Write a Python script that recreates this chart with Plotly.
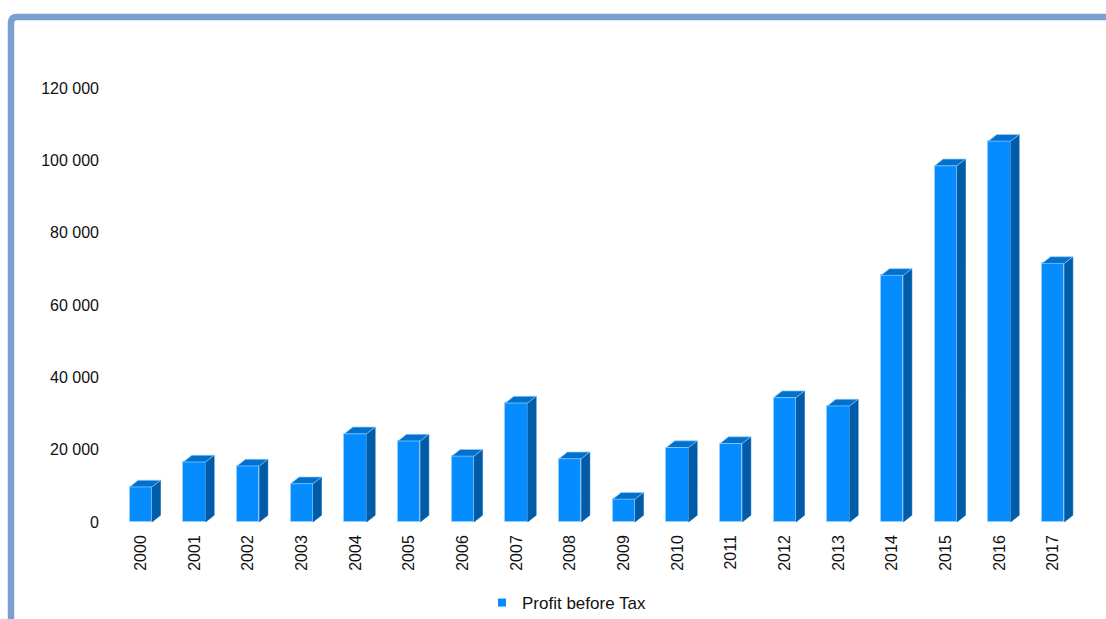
import plotly.graph_objects as go

# Profit before tax by year
years = ["2000", "2001", "2002", "2003", "2004", "2005", "2006", "2007", "2008",
         "2009", "2010", "2011", "2012", "2013", "2014", "2015", "2016", "2017"]
profit = [9700, 16600, 15500, 10600, 24400, 22400, 18200, 32900, 17500,
          6300, 20600, 21700, 34400, 32100, 68200, 98500, 105300, 71500]

y_tick_vals = [0, 20000, 40000, 60000, 80000, 100000, 120000]
y_tick_text = ["0", "20 000", "40 000", "60 000", "80 000", "100 000", "120 000"]

W, H = 1106, 619
ML, MR, MT, MB = 114, 26, 88, 97
PW, PH = W - ML - MR, H - MT - MB
Y_MAX = 120000

FRONT = "#058cff"
TOP = "#0071cc"
SIDE = "#005ca8"
EDGE = "rgba(150,205,255,0.9)"

BAR_W = 22.4 / (PW / len(years))        # front face width in category units
DX = 8.5 / (PW / len(years))            # depth offset, category units
DY = 6.7 / PH * Y_MAX                   # depth offset, value units

xs = list(range(len(years)))

# side and top faces as filled polygons
side_x, side_y, top_x, top_y = [], [], [], []
for x, v in zip(xs, profit):
    r = x + BAR_W / 2
    l = x - BAR_W / 2
    side_x += [r, r + DX, r + DX, r, r, None]
    side_y += [0, DY, v + DY, v, 0, None]
    top_x += [l, l + DX, r + DX, r, l, None]
    top_y += [v, v + DY, v + DY, v, v, None]

fig = go.Figure()
fig.add_trace(go.Bar(
    x=xs, y=profit, width=BAR_W,
    marker=dict(color=FRONT, line=dict(color=EDGE, width=1)),
    showlegend=False, hoverinfo="skip",
))
fig.add_trace(go.Scatter(
    x=side_x, y=side_y, mode="lines", fill="toself", fillcolor=SIDE,
    line=dict(color=SIDE, width=0.5), showlegend=False, hoverinfo="skip",
))
fig.add_trace(go.Scatter(
    x=top_x, y=top_y, mode="lines", fill="toself", fillcolor=TOP,
    line=dict(color=EDGE, width=0.8), showlegend=False, hoverinfo="skip",
))
# legend entry
fig.add_trace(go.Scatter(
    x=[None], y=[None], mode="markers", name="Profit before Tax",
    marker=dict(symbol="square", size=8, color=FRONT),
))


def px_x(p):
    return (p - ML) / PW


def px_y(p):
    return (H - MB - p) / PH


# frame line along the left and top edges with a rounded corner
bx, by = 11, 17
frame_path = (
    f"M {px_x(bx)},{px_y(H + 10)} "
    f"L {px_x(bx)},{px_y(by + 6)} "
    f"Q {px_x(bx)},{px_y(by)} {px_x(bx + 6)},{px_y(by)} "
    f"L {px_x(W + 10)},{px_y(by)}"
)

fig.update_layout(
    width=W, height=H,
    margin=dict(l=ML, r=MR, t=MT, b=MB, autoexpand=False),
    paper_bgcolor="white", plot_bgcolor="white",
    font=dict(family="Liberation Sans, Arial, sans-serif", size=16, color="#111111"),
    xaxis=dict(
        range=[-0.5, len(years) - 0.5],
        tickmode="array", tickvals=xs, ticktext=years,
        tickangle=-90, showgrid=False, zeroline=False, showline=False,
        ticks="", ticklabelstandoff=9, tickfont=dict(size=16),
        automargin=False, fixedrange=True,
    ),
    yaxis=dict(
        range=[0, Y_MAX],
        tickmode="array", tickvals=y_tick_vals, ticktext=y_tick_text,
        showgrid=False, zeroline=False, showline=False,
        ticks="", ticklabelstandoff=14, tickfont=dict(size=16),
        automargin=False, fixedrange=True,
    ),
    showlegend=True,
    legend=dict(
        orientation="h", x=px_x(482), xanchor="left",
        y=px_y(603), yanchor="middle",
        font=dict(size=17), bgcolor="rgba(0,0,0,0)",
    ),
    shapes=[dict(
        type="path", xref="paper", yref="paper", path=frame_path,
        line=dict(color="#7b9fcf", width=6.5), layer="above",
    )],
    bargap=0,
)

fig.write_html("out.html")
